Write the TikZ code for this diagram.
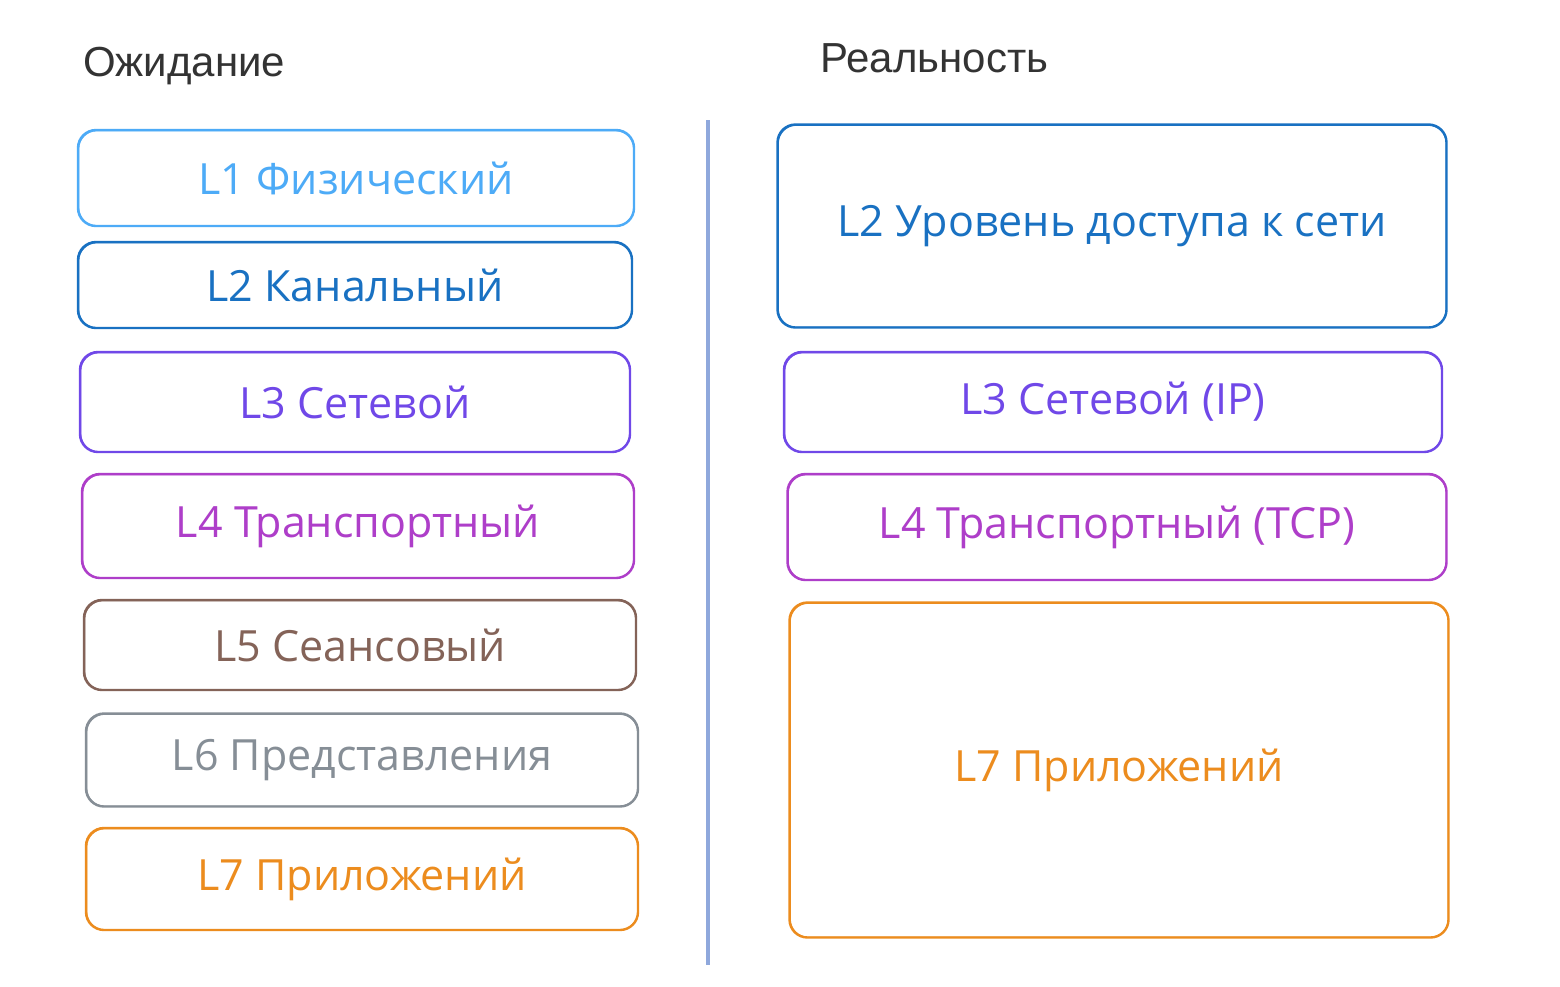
\documentclass[tikz,border=0pt]{standalone}
\usepackage{fontspec}
\setmainfont{Liberation Sans}
\newfontfamily\handfont{Open Sans}
\usetikzlibrary{positioning}

\definecolor{lone}{HTML}{4DABF7}
\definecolor{ltwo}{HTML}{1971C2}
\definecolor{lthree}{HTML}{7048E8}
\definecolor{lfour}{HTML}{AE3EC9}
\definecolor{lfive}{HTML}{846358}
\definecolor{lsix}{HTML}{868E96}
\definecolor{lseven}{HTML}{EC8C1E}
\definecolor{divider}{HTML}{8FA8DC}
\definecolor{titlegray}{HTML}{333333}

\tikzset{
  layer/.style={draw=#1, text=#1, rounded corners=18pt, line width=2.4pt,
    fill=white, inner sep=0pt, font=\handfont\fontsize{43}{48}\selectfont},
  heading/.style={anchor=base west, inner sep=0pt, text=titlegray,
    font=\fontsize{42}{48}\selectfont}
}

\begin{document}
\begin{tikzpicture}[x=1pt,y=-1pt]
  \fill[white] (0,0) rectangle (1560,986);
  \useasboundingbox (0,0) rectangle (1560,986);
  % headings
  \node[heading] (expect) at (83,76) {Ожидание};
  \node[heading] (real) at (820,72) {Реальность};
  % divider
  \coordinate (divtop) at (708,120);
  \coordinate (divbot) at (708,965);
  \draw[divider, line width=3.5pt] (divtop) -- (divbot);
  % expectation: OSI
  \node[layer=lone, minimum width=556pt, minimum height=96pt] (phys) at (356,178) {L1 Физический};
  \node[layer=ltwo, minimum width=554pt, minimum height=86pt] (link) at (355,285) {L2 Канальный};
  \node[layer=lthree, minimum width=550pt, minimum height=100pt] (net) at (355,402) {L3 Сетевой};
  \node[layer=lfour, minimum width=552pt, minimum height=104pt] (trans) at (358,526) {L4 Транспортный};
  \node[layer=lfive, minimum width=552pt, minimum height=90pt] (sess) at (360,645) {L5 Сеансовый};
  \node[layer=lsix, minimum width=552pt, minimum height=93pt] (pres) at (362,760) {L6 Представления};
  \node[layer=lseven, minimum width=552pt, minimum height=102pt] (app) at (362,879) {L7 Приложений};
  % reality: TCP/IP
  \node[layer=ltwo, minimum width=669pt, minimum height=203pt] (access) at (1112,226) {L2 Уровень доступа к сети};
  \node[layer=lthree, minimum width=658pt, minimum height=100pt] (ip) at (1113,402) {L3 Сетевой (IP)};
  \node[layer=lfour, minimum width=659pt, minimum height=106pt] (tcp) at (1117,527) {L4 Транспортный (TCP)};
  \node[layer=lseven, minimum width=659pt, minimum height=335pt] (appl) at (1119,770) {L7 Приложений};
  % second pencil stroke
  \foreach \n/\c in {phys/lone, link/ltwo, net/lthree, trans/lfour, sess/lfive,
      pres/lsix, app/lseven, access/ltwo, ip/lthree, tcp/lfour, appl/lseven}
    \draw[\c, line width=1pt, rounded corners=18pt]
      ([shift={(2,2)}]\n.north west) rectangle ([shift={(-1.5,-1.5)}]\n.south east);
\end{tikzpicture}
\end{document}
